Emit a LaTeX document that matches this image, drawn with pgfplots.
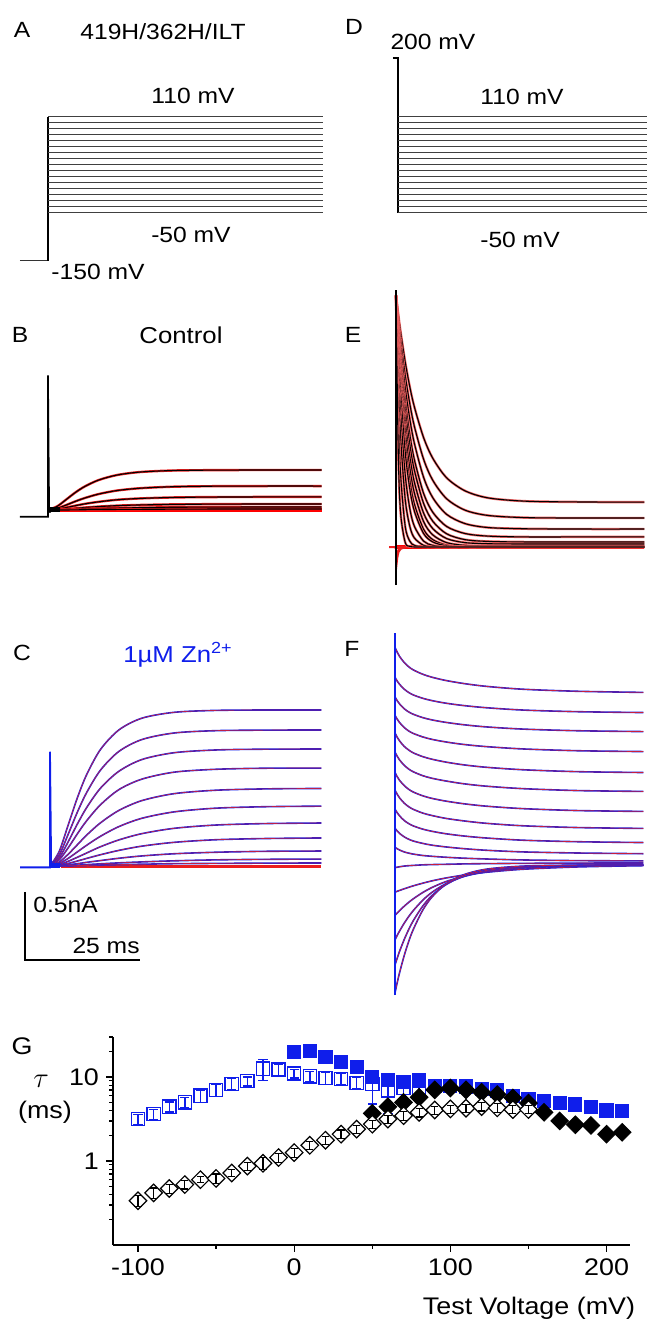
\documentclass[border=0pt]{standalone}
\usepackage{fontspec}
\setmainfont[FakeStretch=1.12]{Liberation Sans}
\usepackage{pgfplots}
\usepackage{pgfplotstable}
\pgfplotsset{compat=1.18}
\definecolor{zblue}{RGB}{15,30,235}
\definecolor{fitred}{RGB}{235,30,30}
\pgfplotsset{trace/.style={hide axis, scale only axis, x=2.3pt, y=68pt, clip=false, enlargelimits=false, anchor=south west}}
\begin{document}
\pgfplotstableread{
t B1 B2 B3 B4 B5 B6
0 0 0 0 0 0 0
2 .027 .012 .006 .002 .001 0
4 .078 .037 .018 .007 .003 0
6 .130 .064 .032 .012 .005 .001
8 .173 .088 .045 .018 .008 .002
11 .220 .117 .060 .025 .011 .003
15 .257 .143 .075 .032 .014 .004
20 .279 .160 .085 .037 .017 .005
27 .290 .171 .092 .041 .020 .006
36 .293 .175 .095 .043 .021 .007
47 .294 .176 .096 .044 .022 .007
59.5 .294 .176 .096 .044 .022 .007
}\Btab
\pgfplotstableread{
t C1 C2 C3 C4 C5 C6 C7 C8 C9 C10 C11
0 0 0 0 0 0 0 0 0 0 0 0
2 .107 .080 .060 .045 .028 .018 .010 .006 .003 .001 0
4 .306 .237 .181 .136 .088 .057 .035 .019 .009 .003 .001
6 .506 .400 .312 .239 .158 .105 .065 .037 .017 .006 .003
8 .674 .542 .431 .334 .228 .153 .096 .056 .027 .010 .004
11 .858 .706 .573 .451 .318 .219 .142 .083 .040 .016 .007
15 1.001 .843 .697 .562 .409 .290 .192 .115 .057 .023 .010
20 1.087 .930 .783 .639 .481 .351 .238 .146 .074 .030 .013
27 1.130 .978 .833 .690 .532 .398 .277 .174 .090 .038 .017
36 1.144 .995 .853 .711 .557 .425 .301 .193 .101 .045 .019
47 1.147 .999 .859 .719 .567 .436 .312 .202 .108 .049 .021
59 1.147 1.0 .86 .72 .57 .44 .316 .206 .110 .051 .022
}\Ctab
\pgfplotstableread{
t T1 T2 T3 T4 T5 T6 T7 T8 T9 T10 T11 T12 T13
0 1.85 1.85 1.85 1.85 1.85 1.85 1.85 1.85 1.85 1.85 1.85 1.85 1.85
0.5 1.709 1.678 1.647 1.614 1.591 1.558 1.524 1.484 1.450 1.354 1.219 .990 .681
1 1.582 1.524 1.469 1.408 1.368 1.313 1.257 1.189 1.136 .990 .805 .531 .250
2 1.361 1.262 1.171 1.077 1.012 .932 .853 .764 .697 .531 .350 .152 .033
3 1.178 1.053 .941 .827 .753 .665 .580 .490 .427 .283 .152 .043 .005
4 1.029 .886 .761 .641 .563 .475 .396 .315 .263 .152 .066 .012 0
6 .804 .645 .512 .394 .320 .249 .186 .130 .099 .043 .012 0 0
8 .652 .490 .362 .255 .189 .135 .089 .054 .037 .012 0 0 0
11 .509 .355 .240 .151 .097 .062 .032 .014 .009 0 0 0 0
15 .413 .271 .172 .099 .054 .032 .012 .002 0 0 0 0 0
20 .361 .232 .143 .080 .041 .024 .008 0 0 0 0 0 0
28 .337 .216 .134 .074 .037 .022 .007 0 0 0 0 0 0
40 .331 .213 .132 .074 .037 .022 .007 0 0 0 0 0 0
54 .330 .213 .132 .074 .037 .022 .007 0 0 0 0 0 0
}\Etab
\pgfplotstableread{
t F1 F2 F3 F4 F5 F6 F7 F8 F9 F10 F11 F12 F13 F14 F15 F16 F17
0 1.600 1.380 1.235 1.100 .970 .830 .680 .550 .410 .270 .130 -.020 -.200 -.370 -.550 -.735 -.940
0.5 1.563 1.351 1.207 1.071 .938 .798 .648 .519 .383 .249 .119 -.016 -.193 -.352 -.516 -.683 -.862
1 1.533 1.328 1.184 1.047 .912 .772 .622 .493 .361 .232 .110 -.013 -.187 -.335 -.485 -.634 -.791
2 1.489 1.293 1.149 1.011 .872 .733 .584 .455 .327 .207 .096 -.008 -.175 -.303 -.428 -.548 -.666
3 1.457 1.268 1.125 .985 .845 .705 .556 .428 .304 .189 .087 -.005 -.164 -.274 -.378 -.473 -.560
4 1.434 1.250 1.108 .967 .824 .685 .536 .409 .287 .176 .080 -.003 -.153 -.248 -.334 -.408 -.472
6 1.403 1.226 1.084 .942 .797 .657 .509 .382 .264 .159 .070 .001 -.134 -.203 -.260 -.304 -.334
8 1.381 1.209 1.067 .924 .778 .638 .490 .364 .248 .146 .064 .003 -.117 -.166 -.202 -.226 -.237
11 1.357 1.190 1.049 .905 .757 .618 .470 .343 .230 .133 .057 .005 -.096 -.123 -.139 -.146 -.141
15 1.334 1.172 1.031 .886 .736 .597 .450 .324 .213 .120 .050 .008 -.074 -.083 -.084 -.081 -.071
20 1.313 1.156 1.015 .870 .718 .579 .432 .306 .198 .108 .044 .010 -.053 -.050 -.045 -.039 -.030
28 1.292 1.139 .999 .853 .700 .561 .414 .288 .182 .096 .037 .012 -.031 -.022 -.017 -.012 -.008
40 1.277 1.127 .987 .840 .686 .547 .400 .275 .171 .088 .032 .014 -.014 -.007 -.004 -.002 -.001
54 1.269 1.121 .981 .834 .680 .541 .394 .269 .165 .083 .030 .015 -.005 -.002 -.001 0 0
}\Ftab
\pgfplotstableread{
v tau e
-100 3.16 0.45
-90 3.63 0.5
-80 4.44 0.6
-70 5.0 0.7
-60 6.0 1.0
-50 7.05 1.2
-40 8.3 1.3
-30 8.95 1.1
-20 12.6 3.5
-10 12.3 2.0
0 11.0 1.3
10 10.2 1.4
20 9.7 1.6
30 9.5 1.5
40 8.5 1.3
50 8.3 3.5
60 6.9 3.2
70 7.4 2.5
80 7.0 1.5
}\Gbo
\pgfplotstableread{
v tau e
0 20.0 0.8
10 20.5 1.8
20 17.4 1.5
30 15.1 0.8
40 13.2 0.6
50 10.0 0.5
60 9.3 0.5
70 8.7 0.5
80 9.1 0.5
90 7.9 0.8
100 7.9 0.5
110 7.7 0.5
120 7.2 0.8
130 6.9 0.5
140 5.9 0.3
150 5.5 0.3
160 5.2 0.3
170 4.9 0.3
180 4.7 0.3
190 4.4 0.3
200 4.0 0.2
210 3.9 0.2
}\Gbf
\pgfplotstableread{
v tau e
-100 .337 .05
-90 .417 .06
-80 .47 .06
-70 .525 .06
-60 .60 .05
-50 .62 .08
-40 .72 .07
-30 .87 .10
-20 .94 .15
-10 1.10 .13
0 1.26 .15
10 1.54 .18
20 1.77 .20
30 2.09 .25
40 2.40 .25
50 2.75 .30
60 3.16 .35
70 3.47 .40
80 3.80 .45
90 4.05 .45
100 4.17 .45
110 4.25 .45
120 4.44 .50
130 4.30 .50
140 4.10 .45
150 4.10 .45
}\Gko
\pgfplotstableread{
v tau
50 3.7
60 4.44
70 5.0
80 5.75
90 7.05
100 7.4
110 7.05
120 6.6
130 6.2
140 5.65
150 4.9
160 3.8
170 3.0
180 2.7
190 2.65
200 2.09
210 2.2
}\Gkf
\begin{tikzpicture}
\path[use as bounding box] (0,0) rectangle (324.5pt,661pt);
\tikzset{lab/.style={font=\fontsize{11}{13}\selectfont, inner sep=0pt}}

% ---------- Panel A ----------
\begin{axis}[trace, at={(7.9pt,527.5pt)}, y=0.3pt, xmin=-7, xmax=61, ymin=-140, ymax=120]
\addplot[black!80, line width=0.5pt] coordinates {(-6.1,-130) (0,-130)};
\addplot[black, line width=0.8pt] coordinates {(0,-130) (0,110)};
\pgfplotsinvokeforeach{-50,-40,-30,-20,-10,0,10,20,30,40,50,60,70,80,90,100,110}{
  \addplot[black!75, line width=0.5pt] coordinates {(0,#1) (59.8,#1)};
}
\end{axis}

% ---------- Panel D ----------
\begin{axis}[trace, at={(194.4pt,551.5pt)}, y=0.3pt, xmin=-2, xmax=55, ymin=-60, ymax=215]
\addplot[black, line width=0.8pt] coordinates {(-1.1,208) (0,208) (0,-50)};
\pgfplotsinvokeforeach{-50,-40,-30,-20,-10,0,10,20,30,40,50,60,70,80,90,100,110}{
  \addplot[black!75, line width=0.5pt] coordinates {(0,#1) (54.1,#1)};
}
\end{axis}

% ---------- Panel B ----------
\begin{axis}[trace, at={(5.6pt,392.4pt)}, xmin=-8, xmax=61, ymin=-0.2, ymax=1.1]
\addplot[red, line width=1.8pt] coordinates {(2.5,-0.002) (59.5,-0.002)};
\pgfplotsinvokeforeach{B1,B2,B3,B4,B5,B6}{
  \addplot[fitred, line width=1.2pt, smooth, tension=0.5] table[x=t,y=#1]{\Btab};
  \addplot[black, line width=0.55pt, smooth, tension=0.5] table[x=t,y=#1]{\Btab};
}
\addplot[black, line width=0.8pt] coordinates {(-6.1,-0.05) (0,-0.05) (0,0.99) (0.25,0.0) (0.5,-0.02)};
\addplot[black, line width=2.2pt] coordinates {(0.2,0.005) (2.6,0.005)};
\end{axis}

% ---------- Panel C ----------
\begin{axis}[trace, at={(6.6pt,214.4pt)}, xmin=-8, xmax=61, ymin=-0.2, ymax=1.3]
\addplot[fitred, line width=1.6pt] coordinates {(2.5,-0.002) (59,-0.002)};
\pgfplotsinvokeforeach{C1,C2,C3,C4,C5,C6,C7,C8,C9,C10,C11}{
  \addplot[zblue, line width=0.8pt, smooth, tension=0.5] table[x=t,y=#1]{\Ctab};
  \addplot[fitred, line width=0.35pt, opacity=0.8, smooth, tension=0.5] table[x=t,y=#1]{\Ctab};
}
\addplot[zblue, line width=0.9pt] coordinates {(-6.5,-0.01) (0,-0.01) (0,0.84) (0.25,0.0) (0.5,-0.01)};
\addplot[zblue, line width=2.2pt] coordinates {(0.2,0.005) (2.2,0.005)};
% scale bar
\addplot[black, line width=0.7pt] coordinates {(-5.43,-0.191) (-5.43,-0.691) (19.57,-0.691)};
\end{axis}

% ---------- Panel E ----------
\begin{axis}[trace, at={(193.4pt,367.1pt)}, xmin=-2, xmax=56, ymin=-0.3, ymax=2.0]
\addplot[red, line width=1.3pt] coordinates {(0.3,0.004) (54,0.004)};
\addplot[red, line width=1.3pt] coordinates {(0.3,-0.006) (54,-0.006)};
\addplot[fitred, line width=0.9pt, smooth, tension=0.5] coordinates {(0,-0.17) (0.3,-0.08) (0.6,-0.035) (1,-0.015) (2,-0.004) (3,0) (54,0)};
\addplot[fitred, line width=0.9pt, smooth, tension=0.5] coordinates {(0,-0.10) (0.4,-0.03) (1,-0.006) (2,0) (54,0)};
\pgfplotsinvokeforeach{T1,T2,T3,T4,T5,T6,T7,T8,T9,T10,T11,T12,T13}{
  \addplot[fitred!70, line width=1.2pt, smooth, tension=0.5] table[x=t,y=#1]{\Etab};
  \addplot[black, line width=0.55pt, smooth, tension=0.5] table[x=t,y=#1]{\Etab};
}
\addplot[black, line width=0.9pt] coordinates {(0,-0.28) (0,1.89)};
\end{axis}

% ---------- Panel F ----------
\begin{axis}[trace, at={(192.9pt,160.5pt)}, xmin=-2, xmax=56, ymin=-1.0, ymax=1.8]
\pgfplotsinvokeforeach{F1,F2,F3,F4,F5,F6,F7,F8,F9,F10,F11,F12,F13,F14,F15,F16,F17}{
  \addplot[zblue, line width=0.8pt, smooth, tension=0.5] table[x=t,y=#1]{\Ftab};
  \addplot[fitred, line width=0.35pt, opacity=0.85, smooth, tension=0.5] table[x=t,y=#1]{\Ftab};
}
\addplot[zblue, line width=0.9pt] coordinates {(0,-0.956) (0,1.706)};
\end{axis}

% ---------- Panel G ----------
\begin{axis}[at={(56.5pt,38.5pt)}, anchor=south west, scale only axis,
  width=258.5pt, height=104pt, ymode=log,
  xmin=-116, xmax=215, ymin=0.1, ymax=30,
  axis x line*=bottom, axis y line*=left,
  axis line style={line width=0.7pt},
  tick align=outside, tick style={black, line width=0.6pt},
  major tick length=3.5pt, minor tick length=2pt,
  xtick={-100,0,100,200}, xticklabels={-100,0,100,200},
  minor xtick={-50,50,150},
  ytick={1,10}, yticklabels={1,10},
  minor ytick={0.2,0.3,0.4,0.5,0.6,0.7,0.8,0.9,2,3,4,5,6,7,8,9,20,30},
  ticklabel style={font=\fontsize{12}{12}\selectfont},
  clip=false, clip marker paths=true]
% blue open squares
\addplot[only marks, mark=square*, mark size=3.3pt, mark options={draw=zblue, fill=white, line width=0.7pt}] table[x=v,y=tau]{\Gbo};
\addplot[draw=none, mark=none, forget plot, error bars/.cd, y dir=both, y explicit,
  error bar style={draw=zblue, line width=0.7pt},
  error mark options={rotate=90, draw=zblue, line width=0.7pt, mark size=2.3pt}] table[x=v,y=tau,y error=e]{\Gbo};
% blue filled squares
\addplot[only marks, mark=square*, mark size=3.3pt, mark options={draw=zblue, fill=zblue, line width=0.5pt},
  error bars/.cd, y dir=both, y explicit,
  error bar style={draw=zblue, line width=0.7pt},
  error mark options={rotate=90, draw=zblue, line width=0.7pt, mark size=2.3pt}] table[x=v,y=tau,y error=e]{\Gbf};
% black filled diamonds
\addplot[only marks, mark=square*, mark size=3.1pt, mark options={rotate=45, draw=black, fill=black, line width=0.5pt}] table[x=v,y=tau]{\Gkf};
% black open diamonds
\addplot[only marks, mark=square*, mark size=3.1pt, mark options={rotate=45, draw=black, fill=white, line width=0.6pt}] table[x=v,y=tau]{\Gko};
\addplot[draw=none, mark=none, forget plot, error bars/.cd, y dir=both, y explicit,
  error bar style={draw=black, line width=0.6pt},
  error mark options={rotate=90, draw=black, line width=0.6pt, mark size=1.8pt}] table[x=v,y=tau,y error=e]{\Gko};
\end{axis}

% ---------- Labels ----------
\node[lab] at (11pt,646pt) {A};
\node[lab] at (81.5pt,645pt) {419H/362H/ILT};
\node[lab] at (96.5pt,613pt) {110 mV};
\node[lab] at (95.5pt,543.5pt) {-50 mV};
\node[lab] at (49pt,525pt) {-150 mV};
\node[lab] at (177pt,647.5pt) {D};
\node[lab] at (216.5pt,640pt) {200 mV};
\node[lab] at (261pt,612.5pt) {110 mV};
\node[lab] at (260pt,541pt) {-50 mV};
\node[lab] at (10pt,493.5pt) {B};
\node[lab, font=\fontsize{11.5}{13}\selectfont] at (90.5pt,493.5pt) {Control};
\node[lab] at (176.5pt,493.5pt) {E};
\node[lab] at (11pt,334.5pt) {C};
\node[lab, text=zblue, font=\fontsize{11.5}{13}\selectfont] at (89pt,333.5pt) {1µM Zn\textsuperscript{2+}};
\node[lab] at (176pt,336.5pt) {F};
\node[lab, anchor=west] at (16.5pt,208.5pt) {0.5nA};
\node[lab, anchor=east] at (70pt,188pt) {25 ms};
\node[lab, font=\fontsize{12}{13}\selectfont] at (11pt,138pt) {G};
\node[inner sep=0pt, font=\fontsize{15}{15}\selectfont] at (20.5pt,120.5pt) {$\tau$};
\node[inner sep=0pt, font=\fontsize{12}{12}\selectfont] at (22.5pt,105pt) {(ms)};
\node[inner sep=0pt, font=\fontsize{12}{12}\selectfont] at (264.5pt,7pt) {Test Voltage (mV)};
\end{tikzpicture}
\end{document}
